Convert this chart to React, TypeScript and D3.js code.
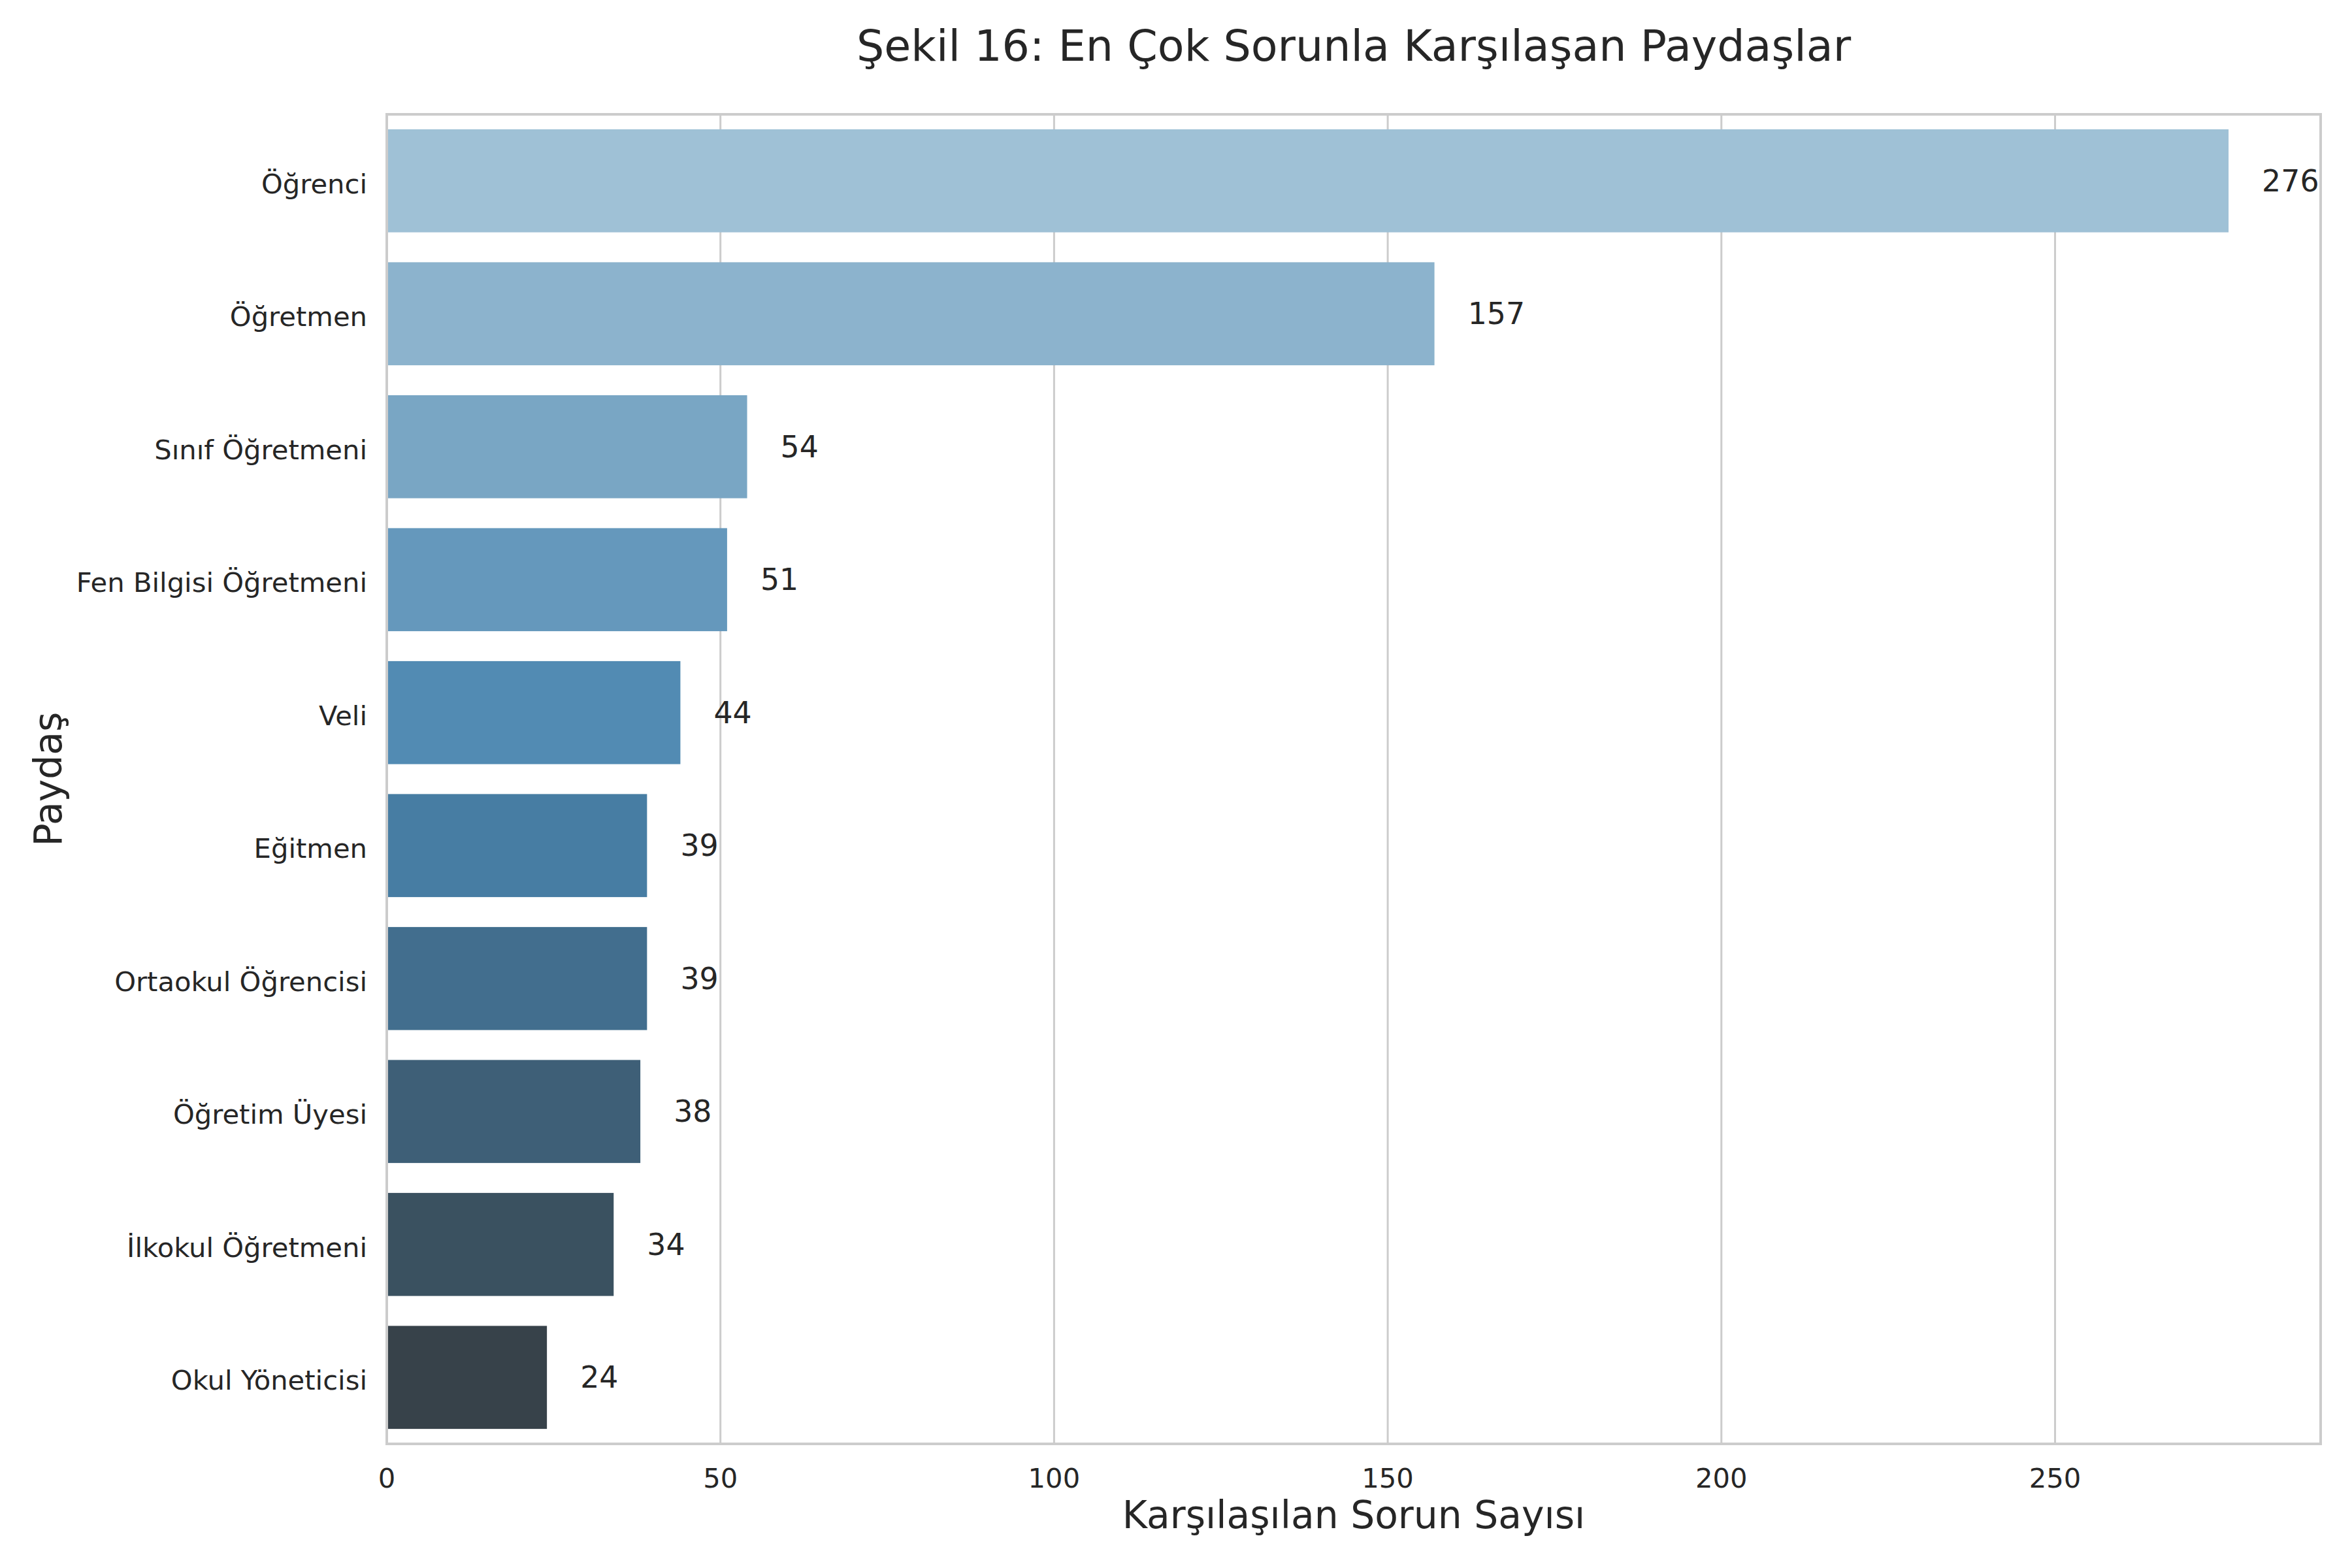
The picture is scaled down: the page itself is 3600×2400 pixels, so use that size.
import { useRef, useEffect } from 'react';
import * as d3 from 'd3';

const categories = [
  'Öğrenci',
  'Öğretmen',
  'Sınıf Öğretmeni',
  'Fen Bilgisi Öğretmeni',
  'Veli',
  'Eğitmen',
  'Ortaokul Öğrencisi',
  'Öğretim Üyesi',
  'İlkokul Öğretmeni',
  'Okul Yöneticisi',
];
const values = [276, 157, 54, 51, 44, 39, 39, 38, 34, 24];
const xTicks = [0, 50, 100, 150, 200, 250];

const title = 'Şekil 16: En Çok Sorunla Karşılaşan Paydaşlar';
const xLabel = 'Karşılaşılan Sorun Sayısı';
const yLabel = 'Paydaş';

// matplotlib "Blues" stops, used to rebuild seaborn's Blues_d palette
const bluesStops = ['#f7fbff', '#deebf7', '#c6dbef', '#9ecae1', '#6baed6', '#4292c6', '#2171b5', '#08519c', '#08306b'];

function bluesDark(n: number) {
  const blues = d3.piecewise(d3.interpolateRgb, bluesStops);
  const ramp = d3.piecewise(d3.interpolateRgb, [blues(1 / 3), blues(2 / 3), '#333333']);
  return d3.range(n).map((i) => {
    const c = d3.hsl(ramp((i + 1) / (n + 1)));
    c.s *= 0.75; // seaborn bar saturation
    return c.formatHex();
  });
}

export default function App() {
  const svgRef = useRef<SVGSVGElement>(null);
  const width = 3600,
    height = 2400;
  const margin = { top: 175, right: 48, bottom: 190, left: 592 };
  const font = 'DejaVu Sans';
  const ink = '#262626';

  useEffect(() => {
    const svg = d3.select(svgRef.current);
    svg.selectAll('*').remove();

    const x = d3
      .scaleLinear()
      .domain([0, d3.max(values)! * 1.05])
      .range([margin.left, width - margin.right]);
    const y = d3
      .scaleBand()
      .domain(categories)
      .range([margin.top, height - margin.bottom])
      .paddingInner(0.225)
      .paddingOuter(0.1125);
    const colors = bluesDark(categories.length);

    svg.append('rect').attr('width', width).attr('height', height).attr('fill', '#fff');

    // vertical grid
    svg
      .append('g')
      .selectAll('line')
      .data(xTicks)
      .join('line')
      .attr('x1', (d) => x(d))
      .attr('x2', (d) => x(d))
      .attr('y1', margin.top)
      .attr('y2', height - margin.bottom)
      .attr('stroke', '#cccccc')
      .attr('stroke-width', 3);

    // bars
    svg
      .append('g')
      .selectAll('rect')
      .data(categories)
      .join('rect')
      .attr('x', x(0))
      .attr('y', (d) => y(d)!)
      .attr('width', (d, i) => x(values[i]) - x(0))
      .attr('height', y.bandwidth())
      .attr('fill', (d, i) => colors[i]);

    // frame
    svg
      .append('rect')
      .attr('x', margin.left)
      .attr('y', margin.top)
      .attr('width', width - margin.right - margin.left)
      .attr('height', height - margin.bottom - margin.top)
      .attr('fill', 'none')
      .attr('stroke', '#cccccc')
      .attr('stroke-width', 4);

    // value labels
    svg
      .append('g')
      .selectAll('text')
      .data(categories)
      .join('text')
      .attr('x', (d, i) => x(values[i] + 5))
      .attr('y', (d) => y(d)! + y.bandwidth() / 2)
      .attr('dy', '0.35em')
      .attr('font-family', font)
      .attr('font-size', 45.8)
      .attr('fill', ink)
      .text((d, i) => values[i]);

    // y tick labels
    svg
      .append('g')
      .selectAll('text')
      .data(categories)
      .join('text')
      .attr('x', margin.left - 30)
      .attr('y', (d) => y(d)! + y.bandwidth() / 2)
      .attr('dy', '0.45em')
      .attr('text-anchor', 'end')
      .attr('font-family', font)
      .attr('font-size', 41.7)
      .attr('fill', ink)
      .text((d) => d);

    // x tick labels
    svg
      .append('g')
      .selectAll('text')
      .data(xTicks)
      .join('text')
      .attr('x', (d) => x(d))
      .attr('y', 2277)
      .attr('text-anchor', 'middle')
      .attr('font-family', font)
      .attr('font-size', 41.7)
      .attr('fill', ink)
      .text((d) => d);

    const midX = (margin.left + width - margin.right) / 2;
    const midY = (margin.top + height - margin.bottom) / 2;

    svg
      .append('text')
      .attr('x', midX)
      .attr('y', 93)
      .attr('text-anchor', 'middle')
      .attr('font-family', font)
      .attr('font-size', 66.7)
      .attr('fill', ink)
      .text(title);

    svg
      .append('text')
      .attr('x', midX)
      .attr('y', 2339)
      .attr('text-anchor', 'middle')
      .attr('font-family', font)
      .attr('font-size', 58.3)
      .attr('fill', ink)
      .text(xLabel);

    svg
      .append('text')
      .attr('transform', `translate(94,${midY}) rotate(-90)`)
      .attr('text-anchor', 'middle')
      .attr('font-family', font)
      .attr('font-size', 58.3)
      .attr('fill', ink)
      .text(yLabel);
  }, []);

  return (
    <div style={{ position: 'absolute', left: 0, top: 0 }}>
      <svg ref={svgRef} width={width} height={height} style={{ display: 'block' }} />
    </div>
  );
}
